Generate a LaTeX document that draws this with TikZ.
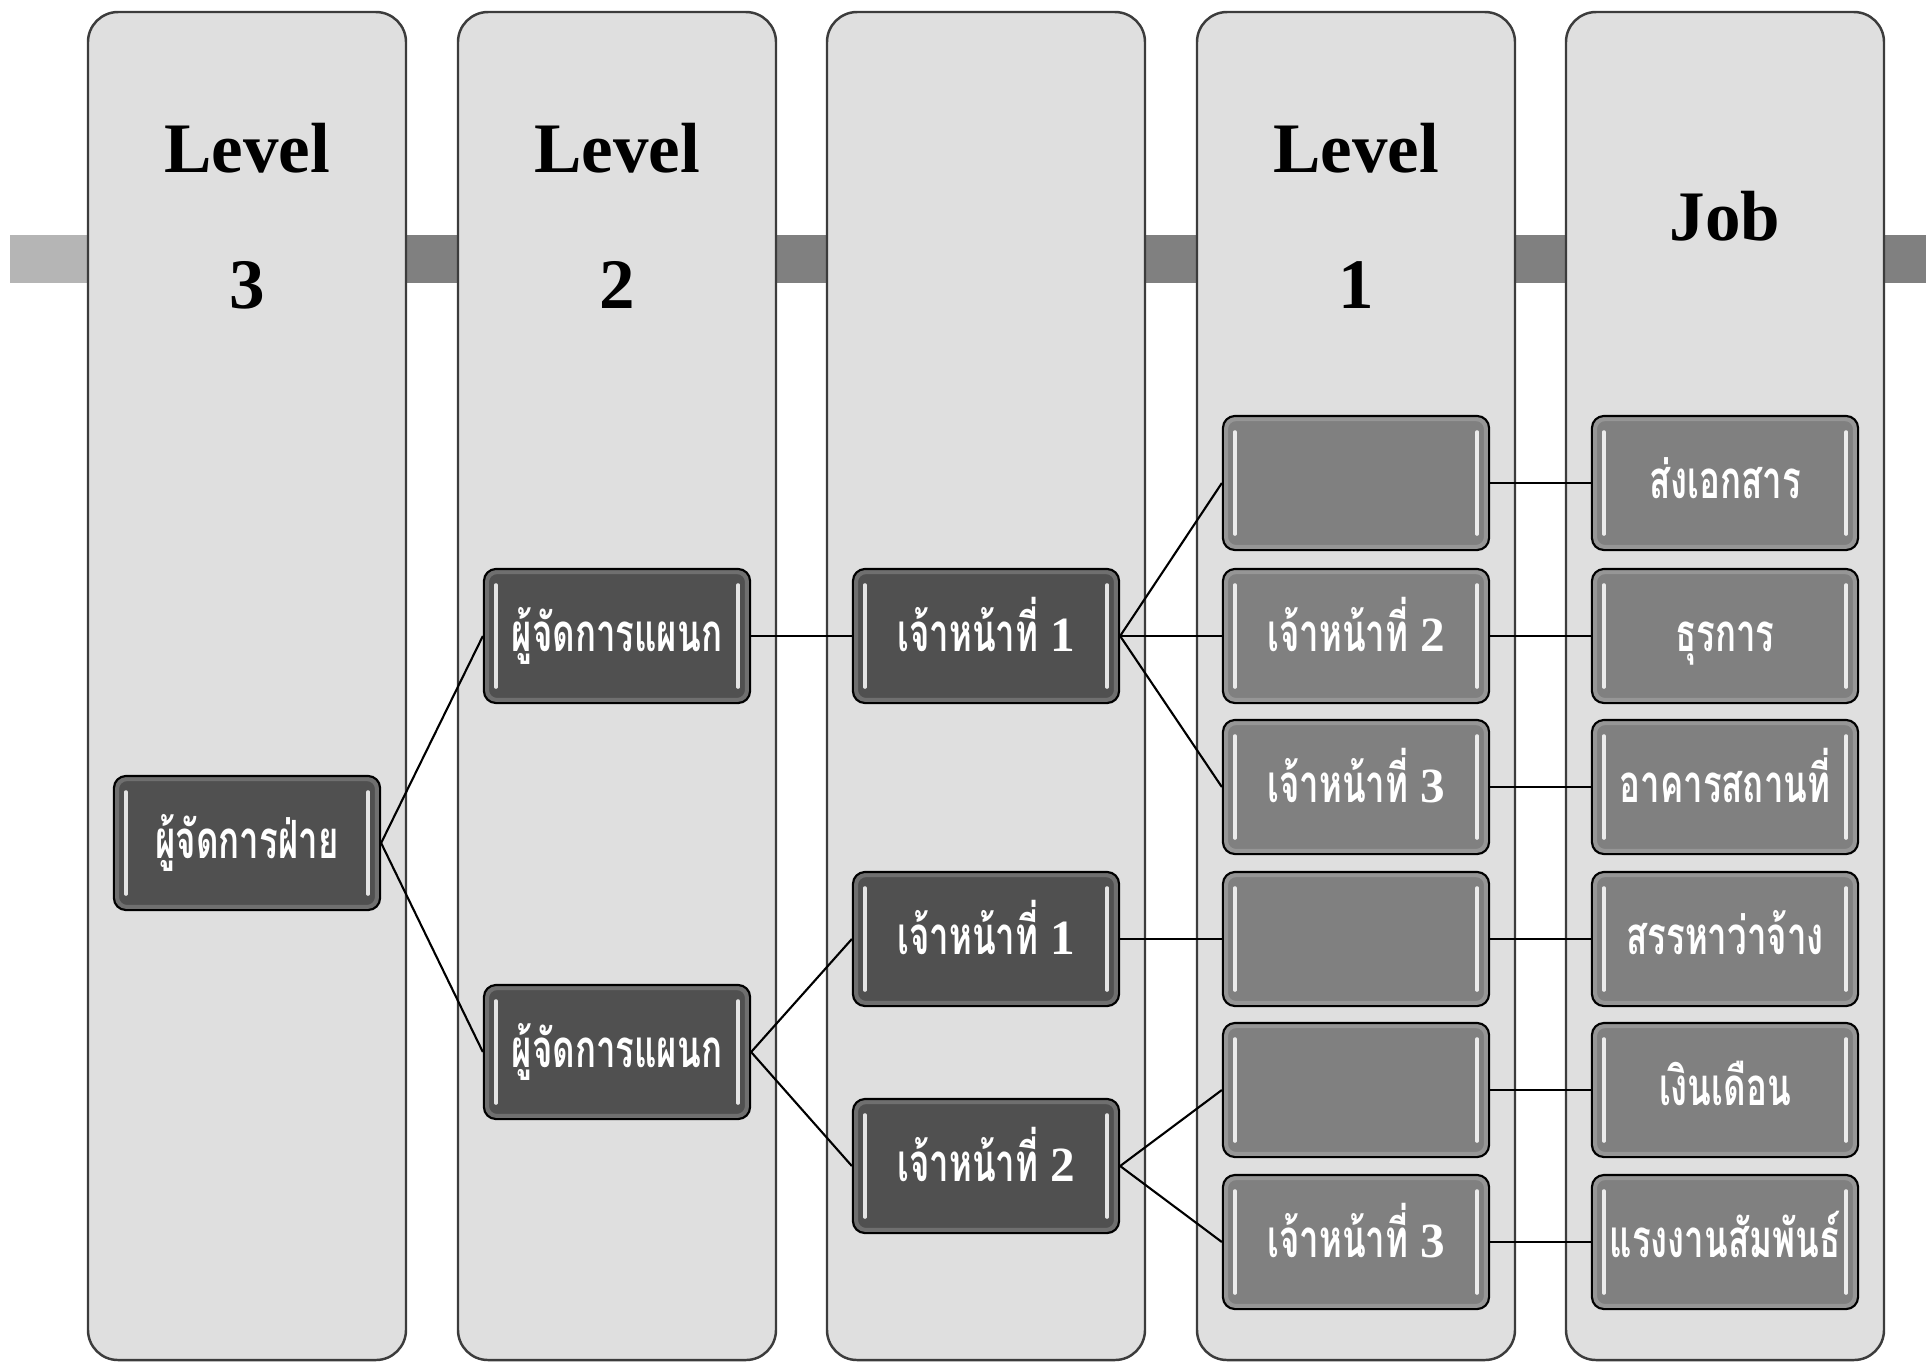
\documentclass[tikz,border=0pt]{standalone}
\usepackage{fontspec}
\setmainfont{Liberation Serif}
\newfontfamily\thaifont[Script=Thai,FakeStretch=0.66]{Loma}
\usetikzlibrary{positioning}

\definecolor{lanefill}{HTML}{DFDFDF}
\definecolor{laneline}{HTML}{3C3C3C}
\definecolor{bardark}{HTML}{808080}
\definecolor{barlight}{HTML}{B5B5B5}
\definecolor{posdark}{HTML}{505050}
\definecolor{poslight}{HTML}{808080}

\newcommand{\nr}[1]{{\rmfamily\bfseries\fontsize{14}{16}\selectfont #1}}

\tikzset{
  lane/.style={draw=laneline, fill=lanefill, line width=0.7pt, rounded corners=0.3cm},
  head/.style={anchor=base, font=\fontsize{20.2}{24}\selectfont\bfseries, inner sep=0pt},
  post/.style={draw=black, line width=0.6pt, rounded corners=0.12cm,
    minimum width=2.66cm, minimum height=1.34cm, inner sep=0pt, text=white,
    text height=8.6pt, text depth=0pt,
    font=\thaifont\bfseries\fontsize{15}{18}\selectfont,
    path picture={
      \draw[white, line width=1.2pt, opacity=0.18, rounded corners=0.1cm]
        ([shift={(0.03cm,-0.03cm)}]path picture bounding box.north west) rectangle
        ([shift={(-0.03cm,0.03cm)}]path picture bounding box.south east);
      \draw[white, line width=1pt, opacity=0.85, line cap=round]
        ([shift={(0.12cm,-0.16cm)}]path picture bounding box.north west) --
        ([shift={(0.12cm,0.16cm)}]path picture bounding box.south west);
      \draw[white, line width=1pt, opacity=0.85, line cap=round]
        ([shift={(-0.12cm,-0.16cm)}]path picture bounding box.north east) --
        ([shift={(-0.12cm,0.16cm)}]path picture bounding box.south east);
    }},
  boss/.style={post, fill=posdark},
  staff/.style={post, fill=poslight},
  link/.style={draw=black, line width=0.6pt}
}

\begin{document}
\begin{tikzpicture}[x=0.01cm, y=-0.01cm]
\useasboundingbox (0,0) rectangle (1926,1362);

% Grey bar behind the lanes
\fill[bardark] (10,235) rectangle (1926,283);
\fill[barlight] (10,235) rectangle (100,283);

% Lanes, one per level
\foreach \x in {247,617,986,1356,1725}
	\draw[lane] (\x-159,12) rectangle (\x+159,1360);

% Lane titles
\node[head] (lv3) at (247,172) {Level};
\node[head] (lv3n) at (247,308) {3};
\node[head] (lv2) at (617,172) {Level};
\node[head] (lv2n) at (617,308) {2};
\node[head] (lv1) at (1356,172) {Level};
\node[head] (lv1n) at (1356,308) {1};
\node[head] (job) at (1725,240) {Job};

% Managers and first staff
\node[boss] (fai) at (247,843) {ผู้จัดการฝ่าย};
\node[boss] (pa) at (617,636) {ผู้จัดการแผนก};
\node[boss] (pb) at (617,1052) {ผู้จัดการแผนก};
\node[boss] (sa) at (986,636) {เจ้าหน้าที่ \nr{1}};
\node[boss] (sb) at (986,939) {เจ้าหน้าที่ \nr{1}};
\node[boss] (sc) at (986,1166) {เจ้าหน้าที่ \nr{2}};

% Level 1 staff
\node[staff] (d1) at (1356,483) {};
\node[staff] (d2) at (1356,636) {เจ้าหน้าที่ \nr{2}};
\node[staff] (d3) at (1356,787) {เจ้าหน้าที่ \nr{3}};
\node[staff] (d4) at (1356,939) {};
\node[staff] (d5) at (1356,1090) {};
\node[staff] (d6) at (1356,1242) {เจ้าหน้าที่ \nr{3}};

% Jobs
\node[staff] (j1) at (1725,483) {ส่งเอกสาร};
\node[staff] (j2) at (1725,636) {ธุรการ};
\node[staff] (j3) at (1725,787) {อาคารสถานที่};
\node[staff] (j4) at (1725,939) {สรรหาว่าจ้าง};
\node[staff] (j5) at (1725,1090) {เงินเดือน};
\node[staff] (j6) at (1725,1242) {แรงงานสัมพันธ์};

% Connectors
\foreach \a/\b in {fai/pa, fai/pb, pa/sa, pb/sb, pb/sc, sa/d1, sa/d2, sa/d3, sb/d4, sc/d5, sc/d6}
	\draw[link] (\a.east) -- (\b.west);
\foreach \i in {1,...,6}
	\draw[link] (d\i.east) -- (j\i.west);

\end{tikzpicture}
\end{document}
